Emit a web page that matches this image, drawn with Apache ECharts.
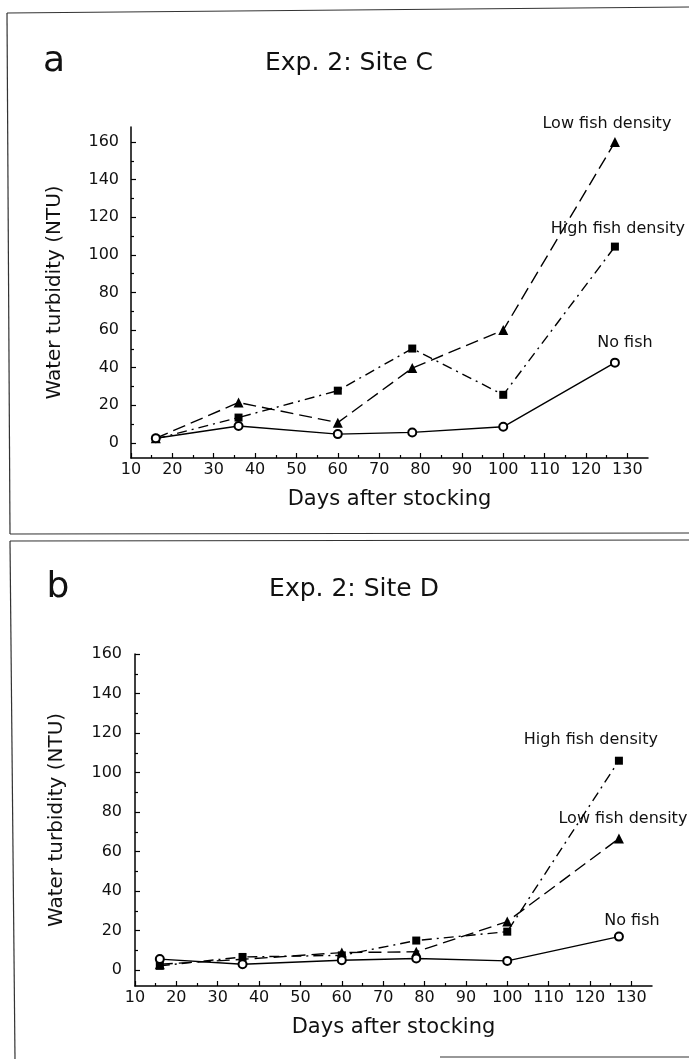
<!DOCTYPE html>
<html>
<head>
<meta charset="utf-8">
<script src="https://cdn.jsdelivr.net/npm/echarts@6/dist/echarts.min.js"></script>
<style>html,body{margin:0;padding:0;background:#fff;}#c{width:689px;height:1059px;}</style>
</head>
<body>
<div id="c"></div>
<script>
// ---- data ----
var days = [16, 36, 60, 78, 100, 127];
var siteC_low = [2.5, 21.5, 10.8, 39.8, 60, 160];
var siteC_high = [2.2, 13.5, 27.8, 50.2, 25.6, 104.4];
var siteC_none = [2.5, 9.0, 4.7, 5.6, 8.6, 42.7];
var siteD_low = [3.0, 5.5, 8.9, 9.3, 24.6, 66.6];
var siteD_high = [2.2, 6.7, 7.5, 15.0, 19.5, 106];
var siteD_none = [5.6, 3.0, 5.0, 5.9, 4.7, 17];
var xTicks = [10, 20, 30, 40, 50, 60, 70, 80, 90, 100, 110, 120, 130];
var xMinorTicks = [15, 25, 35, 45, 55, 65, 75, 85, 95, 105, 115, 125];
var yTicks = [0, 20, 40, 60, 80, 100, 120, 140, 160];
var yMinorTicks = [10, 30, 50, 70, 90, 110, 130, 150];
var seriesNames = ['Low fish density', 'High fish density', 'No fish'];
var panelTitles = ['Exp. 2: Site C', 'Exp. 2: Site D'];
var panelLetters = ['a', 'b'];
var xName = 'Days after stocking';
var yName = 'Water turbidity (NTU)';

var FONT = 'DejaVu Sans';
var chart = echarts.init(document.getElementById('c'));

function xAxes(gi, nameGap) {
  return [
    {gridIndex: gi, type: 'value', min: 10, max: 135, name: xName, nameLocation: 'middle', nameGap: nameGap,
     nameTextStyle: {fontFamily: FONT, fontSize: 21, color: '#111'},
     axisLine: {onZero: false, lineStyle: {color: '#000', width: 1.5}},
     axisTick: {inside: true, length: 5, customValues: xTicks, lineStyle: {color: '#000', width: 1.2}},
     axisLabel: {customValues: xTicks, margin: 4, fontFamily: FONT, fontSize: 16, color: '#111'},
     splitLine: {show: false}},
    {gridIndex: gi, type: 'value', min: 10, max: 135, position: 'bottom',
     axisLine: {show: false, onZero: false},
     axisTick: {inside: true, length: 3, customValues: xMinorTicks, lineStyle: {color: '#000', width: 1.2}},
     axisLabel: {show: false}, splitLine: {show: false}}
  ];
}
function yAxes(gi, max, nameGap, labelMargin) {
  return [
    {gridIndex: gi, type: 'value', min: -8, max: max, name: yName, nameLocation: 'middle', nameGap: nameGap,
     nameTextStyle: {fontFamily: FONT, fontSize: 20, color: '#111'},
     axisLine: {onZero: false, lineStyle: {color: '#000', width: 1.5}},
     axisTick: {inside: true, length: 5, customValues: yTicks, lineStyle: {color: '#000', width: 1.2}},
     axisLabel: {customValues: yTicks, margin: labelMargin, fontFamily: FONT, fontSize: 16, color: '#111'},
     splitLine: {show: false}},
    {gridIndex: gi, type: 'value', min: -8, max: max, position: 'left',
     axisLine: {show: false, onZero: false},
     axisTick: {inside: true, length: 3, customValues: yMinorTicks, lineStyle: {color: '#000', width: 1.2}},
     axisLabel: {show: false}, splitLine: {show: false}}
  ];
}

function makeData(vals, label, offset) {
  return days.map(function (d, i) {
    if (i === days.length - 1) {
      return {value: [d, vals[i]], label: {show: true, position: 'top', offset: offset, formatter: label,
        fontFamily: FONT, fontSize: 16, color: '#111'}};
    }
    return [d, vals[i]];
  });
}

var styles = [
  {symbol: 'triangle', symbolSize: 10, dash: [13, 6]},
  {symbol: 'rect', symbolSize: 8, dash: [10, 5, 2, 5]},
  {symbol: 'emptyCircle', symbolSize: 8, dash: 'solid'}
];

function panelSeries(gi, valsList, offsets) {
  return valsList.map(function (vals, k) {
    return {
      type: 'line', name: seriesNames[k], xAxisIndex: gi * 2, yAxisIndex: gi * 2,
      data: makeData(vals, seriesNames[k], offsets[k]),
      symbol: styles[k].symbol, symbolSize: styles[k].symbolSize,
      itemStyle: {color: '#000', borderColor: '#000', borderWidth: k === 2 ? 1.2 : 0},
      lineStyle: {color: '#000', width: 1.4, type: styles[k].dash},
      animation: false, z: 3 + k
    };
  });
}

var series = [].concat(
  panelSeries(0, [siteC_low, siteC_high, siteC_none], [[-8, 0], [3, -1], [10, -2]]),
  panelSeries(1, [siteD_low, siteD_high, siteD_none], [[4, -2], [-28, -4], [13, 2]])
);

function txt(x, y, s, size) {
  return {type: 'text', x: x, y: y, style: {text: s, fontFamily: FONT, fontSize: size, fill: '#111',
    align: 'center', verticalAlign: 'middle'}};
}
function ln(x1, y1, x2, y2) {
  return {type: 'line', shape: {x1: x1, y1: y1, x2: x2, y2: y2}, style: {stroke: '#333', lineWidth: 1.2}};
}

chart.setOption({
  backgroundColor: '#fff',
  animation: false,
  grid: [
    {left: 131, top: 127, width: 517, height: 331},
    {left: 135, top: 654, width: 517, height: 332}
  ],
  xAxis: xAxes(0, 31).concat(xAxes(1, 31)),
  yAxis: yAxes(0, 168, 66, 12).concat(yAxes(1, 160, 68, 13)),
  series: series,
  graphic: [
    txt(54, 62, panelLetters[0], 36),
    txt(349, 63, panelTitles[0], 25),
    txt(58, 588, panelLetters[1], 36),
    txt(354, 589, panelTitles[1], 25),
    ln(7, 13, 689, 7), ln(7, 13, 10, 534), ln(10, 534, 689, 533),
    ln(10, 541, 689, 540), ln(10, 541, 15, 1059), ln(440, 1057, 689, 1057)
  ]
});
</script>
</body>
</html>
